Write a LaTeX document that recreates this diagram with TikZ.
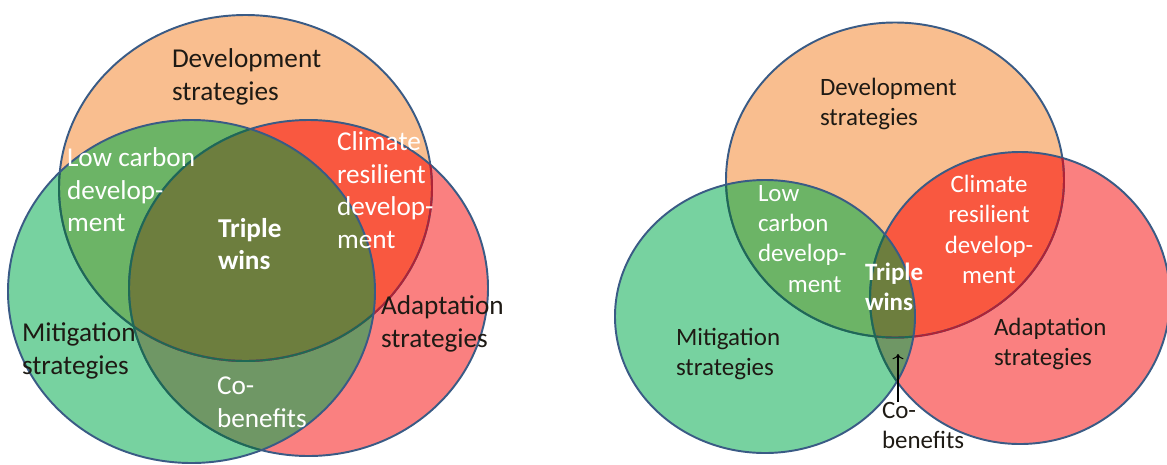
\documentclass[tikz,border=0pt]{standalone}
\usepackage{fontspec}
\setmainfont{Carlito}
\usetikzlibrary{arrows.meta}
\definecolor{devfill}{HTML}{F9BE8F}
\definecolor{mitfill}{HTML}{77D2A0}
\definecolor{adafill}{HTML}{FA8080}
\definecolor{lowfill}{HTML}{6CB466}
\definecolor{clifill}{HTML}{F95840}
\definecolor{cobfill}{HTML}{6F9765}
\definecolor{trifill}{HTML}{6D7E3E}
\definecolor{ringline}{HTML}{3A5B85}
\definecolor{ringred}{HTML}{AF2337}
\definecolor{ringteal}{HTML}{1E6955}
\definecolor{labeldark}{HTML}{1E1A14}
\tikzset{
    every node/.style={inner sep=0mm, outer sep=0mm},
    ring/.style={draw=ringline, line width=1.1pt},
    bigtext/.style={font=\fontsize{15.5}{18.5}\selectfont, align=left, anchor=north west},
    bigbold/.style={font=\fontsize{15.5}{18.5}\selectfont\bfseries, align=left, anchor=north west},
    smalltext/.style={font=\fontsize{14.2}{17.35}\selectfont, align=left, anchor=north west},
    smallbold/.style={font=\fontsize{14.2}{17.35}\selectfont\bfseries, align=left, anchor=north west},
    dark/.style={text=labeldark},
    light/.style={text=white},
}
% ellipse sizes (one unit = one pixel of the layout)
\tikzset{
    devA/.style={x radius=186.5, y radius=173},
    mitA/.style={x radius=183.5, y radius=171.5},
    adaA/.style={x radius=179.5, y radius=168},
    devB/.style={x radius=169, y radius=157.5},
    mitB/.style={x radius=150, y radius=136.5},
    adaB/.style={x radius=150, y radius=146},
}

\begin{document}
\begin{tikzpicture}[x=0.02cm, y=-0.02cm]
        \useasboundingbox (0,0) rectangle (1167,464);
        % left: the three strategies overlap a lot
        \coordinate (d1) at (245.5,188);
        \coordinate (m1) at (191.5,291.5);
        \coordinate (a1) at (308.5,288);
        \fill[devfill] (d1) ellipse [devA];
        \fill[mitfill] (m1) ellipse [mitA];
        \fill[adafill] (a1) ellipse [adaA];
        \begin{scope}
                \clip (m1) ellipse [mitA];
                \fill[cobfill] (a1) ellipse [adaA];
        \end{scope}
        \begin{scope}
                \clip (d1) ellipse [devA];
                \fill[lowfill] (m1) ellipse [mitA];
                \fill[clifill] (a1) ellipse [adaA];
                \clip (m1) ellipse [mitA];
                \fill[trifill] (a1) ellipse [adaA];
        \end{scope}
        \draw[ring] (d1) ellipse [devA];
        \draw[ring] (a1) ellipse [adaA];
        % rims seen through the fills on top
        \begin{scope}
                \clip (a1) ellipse [adaA];
                \draw[ring, draw=ringred] (d1) ellipse [devA];
        \end{scope}
        \begin{scope}
                \clip (m1) ellipse [mitA];
                \draw[ring, draw=ringteal] (d1) ellipse [devA];
                \draw[ring, draw=ringteal] (a1) ellipse [adaA];
        \end{scope}
        \draw[ring] (m1) ellipse [mitA];
        \node (dev1) [bigtext, dark] at (172,49) {Development\\strategies};
        \node (low1) [bigtext, light] at (67,148) {Low carbon\\develop-\\ment};
        \node (tri1) [bigbold, light] at (218,218) {Triple\\wins};
        \node (cli1) [bigtext, light] at (337,132) {Climate\\resilient\\develop-\\ment};
        \node (ada1) [bigtext, dark] at (381,296) {Adaptation\\strategies};
        \node (mit1) [bigtext, dark] at (22,323) {Mitigation\\strategies};
        \node (cob1) [bigtext, light] at (217,377) {Co-\\benefits};

        % right: only a small common core
        \coordinate (d2) at (895,180);
        \coordinate (m2) at (765,316.5);
        \coordinate (a2) at (1020,298);
        \fill[devfill] (d2) ellipse [devB];
        \fill[mitfill] (m2) ellipse [mitB];
        \fill[adafill] (a2) ellipse [adaB];
        \begin{scope}
                \clip (m2) ellipse [mitB];
                \fill[cobfill] (a2) ellipse [adaB];
        \end{scope}
        \begin{scope}
                \clip (d2) ellipse [devB];
                \fill[lowfill] (m2) ellipse [mitB];
                \fill[clifill] (a2) ellipse [adaB];
                \clip (m2) ellipse [mitB];
                \fill[trifill] (a2) ellipse [adaB];
        \end{scope}
        \draw[ring] (d2) ellipse [devB];
        \draw[ring] (a2) ellipse [adaB];
        \begin{scope}
                \clip (a2) ellipse [adaB];
                \draw[ring, draw=ringred] (d2) ellipse [devB];
        \end{scope}
        \begin{scope}
                \clip (m2) ellipse [mitB];
                \draw[ring, draw=ringteal] (d2) ellipse [devB];
                \draw[ring, draw=ringteal] (a2) ellipse [adaB];
        \end{scope}
        \draw[ring] (m2) ellipse [mitB];
        \node (dev2) [smalltext, dark] at (820,78) {Development\\strategies};
        \node (low2) [smalltext, light] at (758,185) {Low\\carbon\\develop-\\\hspace*{17pt}ment};
        \node (tri2) [smallbold, light] at (865,263) {Triple\\wins};
        \node (cli2) [smalltext, light, align=center, anchor=north] at (989,175) {Climate\\resilient\\develop-\\ment};
        \node (ada2) [smalltext, dark] at (994,318) {Adaptation\\strategies};
        \node (mit2) [smalltext, dark] at (676,328) {Mitigation\\strategies};
        \node (cob2) [smalltext, labeldark] at (882,402) {Co-\\benefits};
        \coordinate (cbtip) at (898,354);
        \draw[-{To[length=3pt]}, line width=0.6pt] (cob2.north west -| cbtip) -- (cbtip);
\end{tikzpicture}
\end{document}
